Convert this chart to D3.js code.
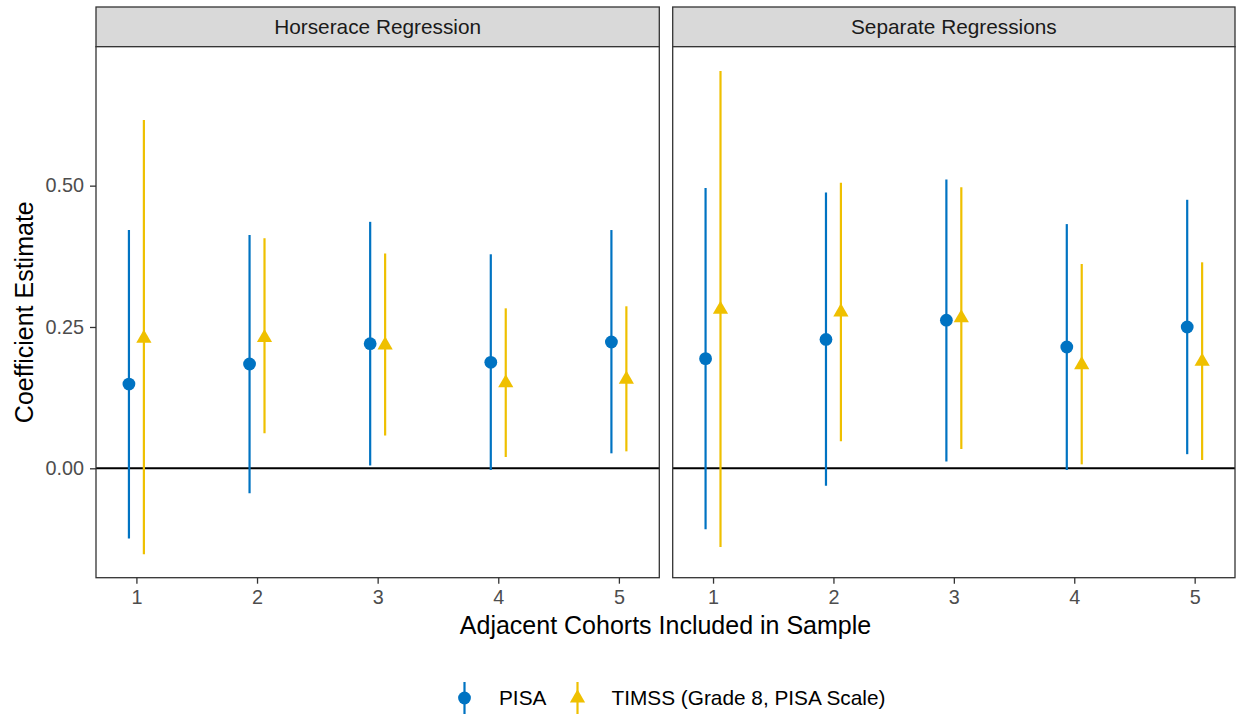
<!DOCTYPE html>
<html>
<head>
<meta charset="utf-8">
<script src="https://cdn.jsdelivr.net/npm/d3@7"></script>
<style>
  body { margin: 0; background: #fff; }
  svg { display: block; font-family: "Liberation Sans", Arial, sans-serif; }
</style>
</head>
<body>
<svg id="chart" width="1238" height="715"></svg>
<script>
// ---------- data ----------
const panels = ["Horserace Regression", "Separate Regressions"];
const cohorts = [1, 2, 3, 4, 5];
const seriesNames = ["PISA", "TIMSS (Grade 8, PISA Scale)"];
const yTicks = [0, 0.25, 0.5];
const yTickLabels = ["0.00", "0.25", "0.50"];

// Horserace Regression
const horsePisaEst   = [0.149, 0.1845, 0.2205, 0.1875, 0.2234];
const horsePisaLo    = [-0.124, -0.044, 0.005, -0.003, 0.0265];
const horsePisaHi    = [0.4215, 0.4127, 0.436, 0.3786, 0.4215];
const horseTimssEst  = [0.230, 0.231, 0.218, 0.151, 0.1575];
const horseTimssLo   = [-0.152, 0.062, 0.058, 0.020, 0.030];
const horseTimssHi   = [0.616, 0.407, 0.380, 0.283, 0.2866];

// Separate Regressions
const sepPisaEst  = [0.194, 0.228, 0.262, 0.2146, 0.250];
const sepPisaLo   = [-0.108, -0.031, 0.012, -0.003, 0.025];
const sepPisaHi   = [0.496, 0.488, 0.511, 0.432, 0.475];
const sepTimssEst = [0.281, 0.2765, 0.266, 0.183, 0.189];
const sepTimssLo  = [-0.139, 0.048, 0.034, 0.007, 0.0147];
const sepTimssHi  = [0.703, 0.505, 0.497, 0.3614, 0.3644];

const colors = ["#0073C2", "#EFC000"];

const panelData = [
  [
    {est: horsePisaEst, lo: horsePisaLo, hi: horsePisaHi},
    {est: horseTimssEst, lo: horseTimssLo, hi: horseTimssHi}
  ],
  [
    {est: sepPisaEst, lo: sepPisaLo, hi: sepPisaHi},
    {est: sepTimssEst, lo: sepTimssLo, hi: sepTimssHi}
  ]
];

// ---------- layout ----------
const FONT = "Liberation Sans, Arial, sans-serif";
const svg = d3.select("#chart");
const panelX = [[96, 659.3], [672.7, 1235]];
const stripTop = 7, panelTop = 46.7, panelBottom = 577.7;
const dodge = [-0.062, 0.062];

const y = d3.scaleLinear().domain([-0.1935, 0.7458]).range([panelBottom, panelTop]);
const tri = d3.symbol().type(d3.symbolTriangle);

panels.forEach((title, pi) => {
  const [x0, x1] = panelX[pi];
  const x = d3.scaleLinear().domain([0.665, 5.335]).range([x0, x1]);
  const g = svg.append("g");

  // strip
  g.append("rect")
    .attr("x", x0).attr("y", stripTop)
    .attr("width", x1 - x0).attr("height", panelTop - stripTop)
    .attr("fill", "#D9D9D9").attr("stroke", "#333333").attr("stroke-width", 1.3);
  g.append("text")
    .attr("x", (x0 + x1) / 2).attr("y", (stripTop + panelTop) / 2)
    .attr("dy", "0.35em").attr("text-anchor", "middle")
    .attr("font-size", 20.8).attr("fill", "#1A1A1A")
    .text(title);

  // panel background
  g.append("rect")
    .attr("x", x0).attr("y", panelTop)
    .attr("width", x1 - x0).attr("height", panelBottom - panelTop)
    .attr("fill", "#fff");

  // zero line
  g.append("line")
    .attr("x1", x0).attr("x2", x1)
    .attr("y1", y(0)).attr("y2", y(0))
    .attr("stroke", "#000").attr("stroke-width", 2);

  // series
  panelData[pi].forEach((s, si) => {
    const sg = g.append("g");
    cohorts.forEach((c, i) => {
      const cx = x(c + dodge[si]);
      sg.append("line")
        .attr("x1", cx).attr("x2", cx)
        .attr("y1", y(s.lo[i])).attr("y2", y(s.hi[i]))
        .attr("stroke", colors[si]).attr("stroke-width", 2.2);
      if (si === 0) {
        sg.append("circle")
          .attr("cx", cx).attr("cy", y(s.est[i])).attr("r", 6.4)
          .attr("fill", colors[si]);
      } else {
        sg.append("path")
          .attr("d", tri.size(100)())
          .attr("transform", `translate(${cx},${y(s.est[i])})`)
          .attr("fill", colors[si]);
      }
    });
  });

  // panel border
  g.append("rect")
    .attr("x", x0).attr("y", panelTop)
    .attr("width", x1 - x0).attr("height", panelBottom - panelTop)
    .attr("fill", "none").attr("stroke", "#333333").attr("stroke-width", 1.3);

  // x axis
  const xAxis = d3.axisBottom(x).tickValues(cohorts).tickFormat(d3.format("d"))
    .tickSize(6).tickPadding(6);
  const xa = g.append("g").attr("transform", `translate(0,${panelBottom})`).call(xAxis);
  xa.attr("font-size", null).attr("font-family", null);
  xa.select(".domain").remove();
  xa.selectAll(".tick line").attr("stroke", "#333333").attr("stroke-width", 1.3);
  xa.selectAll(".tick text").attr("fill", "#4D4D4D")
    .style("font-size", "19.8px").style("font-family", FONT);

  // y axis (only first panel)
  if (pi === 0) {
    const yAxis = d3.axisLeft(y).tickValues(yTicks)
      .tickFormat((d, i) => yTickLabels[i]).tickSize(6).tickPadding(6);
    const ya = g.append("g").attr("transform", `translate(${x0},0)`).call(yAxis);
    ya.attr("font-size", null).attr("font-family", null);
    ya.select(".domain").remove();
    ya.selectAll(".tick line").attr("stroke", "#333333").attr("stroke-width", 1.3);
    ya.selectAll(".tick text").attr("fill", "#4D4D4D")
      .style("font-size", "19.8px").style("font-family", FONT);
  }
});

// axis titles
svg.append("text")
  .attr("x", (96 + 1235) / 2).attr("y", 634.3)
  .attr("text-anchor", "middle").attr("font-size", 25).attr("fill", "#000")
  .text("Adjacent Cohorts Included in Sample");
svg.append("text")
  .attr("transform", `translate(33,${(panelTop + panelBottom) / 2}) rotate(-90)`)
  .attr("text-anchor", "middle").attr("font-size", 25).attr("fill", "#000")
  .text("Coefficient Estimate");

// legend
const legend = svg.append("g");
const legendItems = [
  {name: seriesNames[0], kx: 464.5, tx: 499, color: colors[0], shape: "circle"},
  {name: seriesNames[1], kx: 577.5, tx: 611.5, color: colors[1], shape: "triangle"}
];
const ly = 698;
legendItems.forEach(it => {
  legend.append("line")
    .attr("x1", it.kx).attr("x2", it.kx).attr("y1", ly - 16).attr("y2", ly + 16)
    .attr("stroke", it.color).attr("stroke-width", 2.2);
  if (it.shape === "circle") {
    legend.append("circle").attr("cx", it.kx).attr("cy", ly).attr("r", 6.4).attr("fill", it.color);
  } else {
    legend.append("path").attr("d", tri.size(100)())
      .attr("transform", `translate(${it.kx},${ly})`).attr("fill", it.color);
  }
  legend.append("text").attr("x", it.tx).attr("y", ly).attr("dy", "0.35em")
    .attr("font-size", 20.8).attr("fill", "#000").text(it.name);
});
</script>
</body>
</html>
